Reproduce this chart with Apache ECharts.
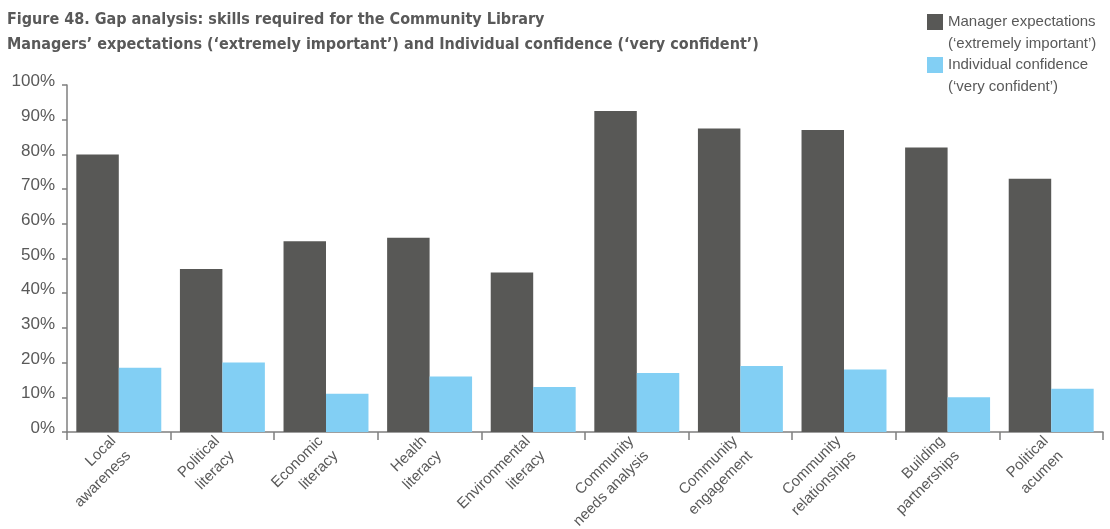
<!DOCTYPE html>
<html>
<head>
<meta charset="utf-8">
<script src="https://cdn.jsdelivr.net/npm/echarts@6/dist/echarts.min.js"></script>
<style>
html,body{margin:0;padding:0;background:#fff;}
#chart{width:1110px;height:529px;}
</style>
</head>
<body>
<div id="chart"></div>
<script>
const categories = [
  "Local\nawareness",
  "Political\nliteracy",
  "Economic\nliteracy",
  "Health\nliteracy",
  "Environmental\nliteracy",
  "Community\nneeds analysis",
  "Community\nengagement",
  "Community\nrelationships",
  "Building\npartnerships",
  "Political\nacumen"
];
const managerExpectations = [80, 47, 55, 56, 46, 92.5, 87.5, 87, 82, 73];
const individualConfidence = [18.5, 20, 11, 16, 13, 17, 19, 18, 10, 12.5];
const yTicks = [0, 10, 20, 30, 40, 50, 60, 70, 80, 90, 100];
const seriesNames = ["Manager expectations\n(\u2018extremely important\u2019)", "Individual confidence\n(\u2018very confident\u2019)"];
const titleText = "Figure 48. Gap analysis: skills required for the Community Library\nManagers\u2019 expectations (\u2018extremely important\u2019) and Individual confidence (\u2018very confident\u2019)";

const textColor = '#595959';
const axisColor = '#7f7f7f';
const baseFont = "'Liberation Sans', Arial, sans-serif";

const chart = echarts.init(document.getElementById('chart'), null, {renderer: 'canvas'});
chart.setOption({
  animation: false,
  backgroundColor: '#ffffff',
  title: {
    text: titleText,
    left: 2,
    top: 2,
    textStyle: {
      fontFamily: "'Liberation Sans Narrow', 'DejaVu Sans Condensed', sans-serif",
      fontWeight: 'bold',
      fontSize: 16,
      lineHeight: 25,
      color: textColor
    }
  },
  legend: {
    orient: 'vertical',
    left: 922,
    top: -16,
    padding: 5,
    itemWidth: 16,
    itemHeight: 16,
    itemGap: -23,
    itemTextGap: 8,
    icon: 'rect',
    selectedMode: false,
    formatter: function (name) { return '\n' + name; },
    textStyle: {
      fontFamily: baseFont,
      fontSize: 15,
      lineHeight: 22,
      color: textColor
    },
    data: seriesNames
  },
  grid: {
    left: 67,
    right: 7,
    top: 85,
    bottom: 97,
    containLabel: false,
    outerBoundsMode: 'none'
  },
  xAxis: {
    type: 'category',
    data: categories,
    axisLine: {lineStyle: {color: axisColor, width: 1.5}},
    axisTick: {show: true, alignWithLabel: false, length: 8, lineStyle: {color: axisColor, width: 1.5}},
    axisLabel: {
      interval: 0,
      rotate: 45,
      margin: 5,
      verticalAlign: 'middle',
      formatter: function (v) {
        const parts = v.split('\n');
        return '{a|' + parts[0] + '}\n{b|' + parts[1] + '}';
      },
      rich: {
        a: {fontFamily: baseFont, fontSize: 15, lineHeight: 37, color: textColor, padding: [0, 5, 0, 0]},
        b: {fontFamily: baseFont, fontSize: 15, lineHeight: 5, color: textColor, padding: [0, 5, 0, 0]}
      }
    }
  },
  yAxis: {
    type: 'value',
    min: 0,
    max: 100,
    interval: 10,
    axisLine: {show: true, lineStyle: {color: axisColor, width: 1.5}},
    axisTick: {show: true, length: 5, lineStyle: {color: axisColor, width: 1.5}},
    splitLine: {show: false},
    axisLabel: {
      margin: 12,
      fontFamily: baseFont,
      fontSize: 17,
      lineHeight: 7,
      verticalAlign: 'bottom',
      color: textColor,
      formatter: function (v) { return yTicks.indexOf(v) >= 0 ? v + '%' : ''; }
    }
  },
  series: [
    {
      name: seriesNames[0],
      type: 'bar',
      data: managerExpectations,
      barGap: '0%',
      barCategoryGap: '18%',
      itemStyle: {color: '#585856'}
    },
    {
      name: seriesNames[1],
      type: 'bar',
      data: individualConfidence,
      itemStyle: {color: '#82cff4'}
    }
  ]
});
</script>
</body>
</html>
